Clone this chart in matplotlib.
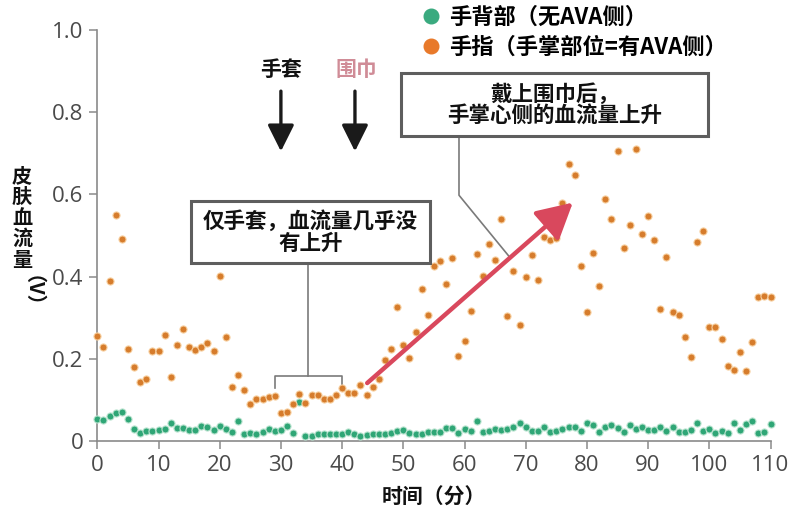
import numpy as np
import matplotlib.pyplot as plt
from matplotlib.lines import Line2D
from matplotlib.patches import Rectangle

CJK = ['Noto Sans CJK SC', 'DejaVu Sans']
plt.rcParams['font.family'] = CJK

# minutes 0..110, one reading per minute
minutes = np.arange(0, 111)

# 手指 (palm side, with AVA)
finger = [0.255, 0.229, 0.389, 0.550, 0.491, 0.225, 0.181, 0.144, 0.150, 0.218,
          0.218, 0.259, 0.156, 0.234, 0.272, 0.229, 0.221, 0.229, 0.239, 0.219,
          0.402, 0.252, 0.131, 0.161, 0.124, 0.090, 0.101, 0.101, 0.106, 0.110,
          0.067, 0.071, 0.090, 0.114, 0.093, 0.112, 0.112, 0.102, 0.101, 0.112,
          0.130, 0.116, 0.116, 0.136, 0.112, 0.132, 0.150, 0.196, 0.225, 0.327,
          0.233, 0.202, 0.266, 0.370, 0.307, 0.427, 0.438, 0.381, 0.445, 0.207,
          0.243, 0.316, 0.455, 0.401, 0.480, 0.440, 0.541, 0.305, 0.414, 0.282,
          0.400, 0.453, 0.391, 0.496, 0.489, 0.493, 0.580, 0.673, 0.646, 0.426,
          0.313, 0.457, 0.377, 0.590, 0.539, 0.706, 0.470, 0.526, 0.711, 0.504,
          0.548, 0.489, 0.322, 0.447, 0.315, 0.306, 0.254, 0.204, 0.484, 0.511,
          0.277, 0.278, 0.249, 0.183, 0.173, 0.217, 0.171, 0.241, 0.350, 0.352,
          0.350]

# 手背部 (back of hand, no AVA)
back = [0.054, 0.051, 0.062, 0.067, 0.070, 0.054, 0.028, 0.020, 0.025, 0.025,
        0.027, 0.030, 0.045, 0.032, 0.032, 0.027, 0.027, 0.037, 0.033, 0.027,
        0.037, 0.028, 0.023, 0.049, 0.016, 0.020, 0.016, 0.021, 0.029, 0.024,
        0.027, 0.037, 0.019, 0.094, 0.012, 0.013, 0.018, 0.016, 0.016, 0.016,
        0.017, 0.023, 0.017, 0.013, 0.015, 0.016, 0.018, 0.018, 0.020, 0.025,
        0.027, 0.019, 0.017, 0.017, 0.022, 0.022, 0.022, 0.032, 0.032, 0.019,
        0.030, 0.025, 0.049, 0.022, 0.024, 0.030, 0.027, 0.028, 0.035, 0.044,
        0.034, 0.025, 0.025, 0.035, 0.022, 0.025, 0.030, 0.035, 0.034, 0.025,
        0.043, 0.038, 0.022, 0.035, 0.040, 0.031, 0.023, 0.038, 0.030, 0.034,
        0.026, 0.026, 0.034, 0.025, 0.033, 0.021, 0.023, 0.027, 0.045, 0.025,
        0.030, 0.019, 0.025, 0.019, 0.045, 0.026, 0.041, 0.049, 0.020, 0.023,
        0.041]

labels = ['手背部（无AVA侧）', '手指（手掌部位=有AVA侧）']
x_ticks = list(range(0, 111, 10))
y_ticks = [0, 0.2, 0.4, 0.6, 0.8, 1.0]
y_tick_labels = ['0', '0.2', '0.4', '0.6', '0.8', '1.0']

green = '#2fa676'
orange = '#d67c2c'
grey = '#8a8a8a'

W, H = 810, 518
fig = plt.figure(figsize=(W / 100, H / 100), dpi=100)
ax = fig.add_axes([97.3 / W, 1 - 441 / H, (770.5 - 97.3) / W, 411 / H])


def fx(px):
    return px / W


def fy(py):
    return 1 - py / H


ax.scatter(minutes, back, s=26, color=green, edgecolor='#b9e3cf', linewidth=0.8,
           zorder=3, clip_on=False)
ax.scatter(minutes, finger, s=26, color=orange, edgecolor='#f7cf9f', linewidth=0.8,
           zorder=3, clip_on=False)

ax.set_xlim(0, 110)
ax.set_ylim(0, 1.0)
ax.set_xticks(x_ticks)
ax.set_yticks(y_ticks)
ax.set_yticklabels(y_tick_labels)
for s in ['top', 'right']:
    ax.spines[s].set_visible(False)
for s in ['left', 'bottom']:
    ax.spines[s].set_color(grey)
    ax.spines[s].set_linewidth(1.2)
ax.tick_params(colors=grey, length=6, width=1.1, labelcolor='#4a4a4a',
               labelsize=16, pad=4)
for t in ax.get_xticklabels() + ax.get_yticklabels():
    t.set_fontfamily(['Open Sans', 'DejaVu Sans'])

# axis labels
fig.text(fx(434), fy(497), '时间（分）', ha='center', va='center',
         fontsize=15, fontweight='bold', color='#111111')
for i, ch in enumerate('皮肤血流量'):
    fig.text(fx(22), fy(176 + 20.75 * i), ch, ha='center', va='center',
             fontsize=14.5, fontweight='bold', color='#111111')
fig.text(fx(22), fy(301), '（V）', ha='center', va='center', rotation=-90,
         fontsize=14.5, fontweight='bold', color='#111111')

# legend
handles = [Line2D([], [], ls='', marker='o', ms=10.5, color='#3aaa7f'),
           Line2D([], [], ls='', marker='o', ms=10.5, color='#e8792a')]
fig.legend(handles, labels, loc='upper left', bbox_to_anchor=(fx(422), fy(6)),
           frameon=False, prop={'weight': 'bold', 'size': 16},
           handlelength=0.8, handletextpad=0.4, labelspacing=0.32,
           borderpad=0, borderaxespad=0)

# event arrows
ax.annotate('', xy=(30, 0.698), xytext=(30, 0.858),
            arrowprops=dict(arrowstyle='-|>,head_length=0.9,head_width=0.45',
                            lw=2.4, color='#1a1a1a', mutation_scale=18))
ax.annotate('', xy=(42.1, 0.698), xytext=(42.1, 0.858),
            arrowprops=dict(arrowstyle='-|>,head_length=0.9,head_width=0.45',
                            lw=2.4, color='#1a1a1a', mutation_scale=18))
ax.text(30, 0.903, '手套', ha='center', va='center', fontsize=15,
        fontweight='bold', color='#111111')
ax.text(42.3, 0.903, '围巾', ha='center', va='center', fontsize=15,
        fontweight='bold', color='#d08c97')

# rising trend arrow
ax.annotate('', xy=(77.7, 0.58), xytext=(44.1, 0.141),
            arrowprops=dict(arrowstyle='-|>,head_length=1.2,head_width=0.65',
                            lw=3.2, color='#d9485d', mutation_scale=18,
                            shrinkA=0, shrinkB=0), zorder=4)

# annotation box 1 and its bracket
line_kw = dict(color='#7a7a7a', lw=1.2, zorder=2)
ax.plot([34.5, 34.5], [0.433, 0.157], **line_kw)
ax.plot([29, 29, 40, 40], [0.130, 0.157, 0.157, 0.135], **line_kw)
ax.add_patch(Rectangle((15.3, 0.433), 54.4 - 15.3, 0.584 - 0.433, fc='white',
                       ec='#5e5e5e', lw=2.2, zorder=5, clip_on=False))
ax.text((15.3 + 54.4) / 2, (0.433 + 0.584) / 2, '仅手套，血流量几乎没\n有上升',
        ha='center', va='center', fontsize=15.5, fontweight='bold',
        linespacing=1.05, color='#111111', zorder=6)

# annotation box 2 and its leader
ax.plot([59.1, 59.1, 67.4], [0.742, 0.598, 0.447], **line_kw)
ax.add_patch(Rectangle((49.6, 0.742), 99.8 - 49.6, 0.896 - 0.742, fc='white',
                       ec='#5e5e5e', lw=2.2, zorder=5, clip_on=False))
ax.text((49.6 + 99.8) / 2, (0.742 + 0.896) / 2, '戴上围巾后，\n手掌心侧的血流量上升',
        ha='center', va='center', fontsize=15.5, fontweight='bold',
        linespacing=1.05, color='#111111', zorder=6)

fig.savefig('out.png', dpi=100)
